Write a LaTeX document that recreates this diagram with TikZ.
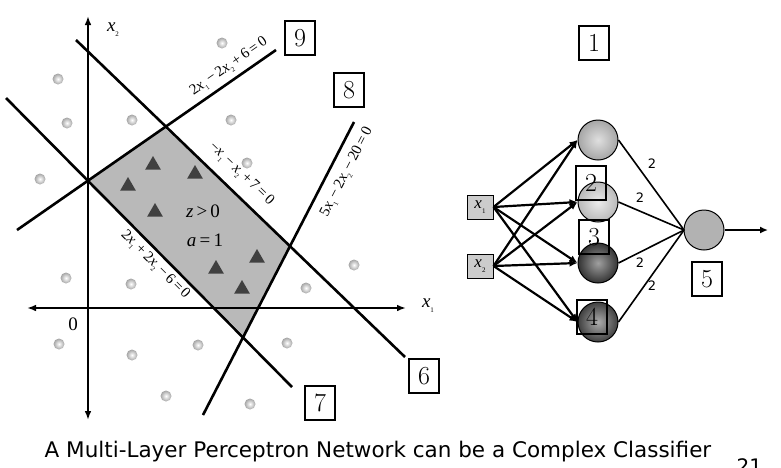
\documentclass[tikz,border=0pt]{standalone}
\usepackage{fontspec}
\newfontfamily\capfont{DejaVu Sans}
\newfontfamily\mfont{Liberation Serif}
\usetikzlibrary{arrows.meta,shapes.geometric}
\newcommand\vx[1]{\textit{x}\raisebox{-0.25em}{\scriptsize #1}}
\newcommand\op[1]{\,#1\,}
\begin{document}
\begin{tikzpicture}[x=1pt,y=-1pt,
  ln/.style={line width=2.6pt},
  numbox/.style={draw,line width=1.8pt,fill=white,inner sep=2pt,minimum width=30pt,minimum height=34pt,font=\fontsize{26}{28}\selectfont},
  dot/.style={circle,inner sep=0pt,minimum size=11pt,shade,inner color=white,outer color=gray!70},
  tri/.style={regular polygon,regular polygon sides=3,fill=black!75,inner sep=0pt,minimum size=18pt},
  lab/.style={inner sep=1pt,font=\mfont\fontsize{15}{17}\selectfont},
  big/.style={inner sep=1pt,font=\mfont\fontsize{19}{21}\selectfont},
  inbox/.style={draw,line width=1pt,fill=gray!40,minimum width=26pt,minimum height=24pt,inner sep=1pt,font=\mfont\fontsize{17}{19}\selectfont},
  hid/.style={circle,draw,line width=1pt,minimum size=40pt,inner sep=0pt},
  arr/.style={line width=2.2pt,-{Latex[length=8pt,width=7pt]}}]
\useasboundingbox (0,0) rectangle (781,467);
% shaded region
\fill[gray!55] (88,180) -- (165,128) -- (290,245) -- (245,337) -- cycle;
% axes
\coordinate (yb) at (88,420); \coordinate (yt) at (88,16);
\coordinate (xl) at (27,308); \coordinate (xr) at (406,308);
\draw[ln,{Latex[length=9pt]}-{Latex[length=9pt]}] (yb) -- (yt);
\draw[ln,{Latex[length=9pt]}-{Latex[length=9pt]}] (xl) -- (xr);
\node[big] (lx2) at (113,30) {\vx{2}};
\node[big] (lx1) at (428,306) {\vx{1}};
\node[big] (l0) at (73,324) {0};
% lines
\coordinate (l6a) at (76,40); \coordinate (l6b) at (405,357);
\coordinate (l7a) at (6,98); \coordinate (l7b) at (292,387);
\coordinate (l9a) at (17,230); \coordinate (l9b) at (276,50);
\coordinate (l8a) at (354,122); \coordinate (l8b) at (203,415);
\draw[ln] (l6a) -- (l6b);
\draw[ln] (l7a) -- (l7b);
\draw[ln] (l9a) -- (l9b);
\draw[ln] (l8a) -- (l8b);
\node[lab,rotate=34.8] (e9) at (229,67) {2\vx{1}\op{−}2\vx{2}\op{+}6\op{=}0};
\node[lab,rotate=-43.9] (e6) at (241,174) {−\vx{1}\op{−}\vx{2}\op{+}7\op{=}0};
\node[lab,rotate=62.7] (e8) at (347,172) {5\vx{1}\op{−}2\vx{2}\op{−}20\op{=}0};
\node[lab,rotate=-45] (e7) at (155,265) {2\vx{1}\op{+}2\vx{2}\op{−}6\op{=}0};
% triangles
\foreach \p [count=\i] in {(153,165),(195,174),(128,186),(155,212),(216,269),(257,258),(242,289)}
  \node[tri] (t\i) at \p {};
\node[big] (zt) at (203,211) {\textit{z}\op{>}0};
\node[big] (at) at (205,240) {\textit{a}\op{=}1};
% dots
\foreach \p [count=\i] in {(58,79),(67,123),(40,179),(132,120),(222,43),(231,120),(247,163),(66,278),(131,284),(306,288),(354,265),(59,344),(132,355),(198,345),(287,343),(166,396),(250,404)}
  \node[dot] (d\i) at \p {};
% network
\node[inbox] (x1) at (480,207) {\vx{1}};
\node[inbox] (x2) at (480,266) {\vx{2}};
\node[hid,shade,inner color=gray!25,outer color=gray!70] (h1) at (598,140) {};
\node[hid,shade,inner color=gray!15,outer color=gray!55] (h2) at (598,202) {};
\node[hid,shade,inner color=gray!75,outer color=black!80] (h3) at (598,263) {};
\node[hid,shade,inner color=gray!65,outer color=black!75] (h4) at (598,322) {};
\node[hid,fill=gray!60] (o) at (704,230) {};
\coordinate (oend) at (768,230);
\foreach \a in {x1,x2}\foreach \h in {h1,h2,h3,h4}
  \draw[arr] (\a.east) -- (\h.west);
\coordinate (cv) at (684,230);
\foreach \h in {h1,h2,h3,h4} \draw[line width=1.6pt] (\h.east) -- (cv);
\draw[arr] (o.east) -- (oend);
\node[font=\capfont\fontsize{13}{15}\selectfont] (w1) at (652,164) {2};
\node[font=\capfont\fontsize{13}{15}\selectfont] (w2) at (640,198) {2};
\node[font=\capfont\fontsize{13}{15}\selectfont] (w3) at (640,263) {2};
\node[font=\capfont\fontsize{13}{15}\selectfont] (w4) at (652,286) {2};
% number boxes
\node[numbox] (b1) at (594,43) {1};
\node[numbox,fill=none] (b2) at (591,183) {2};
\node[numbox,fill=none] (b3) at (594,237) {3};
\node[numbox,fill=none] (b4) at (592,317) {4};
\node[numbox] (b5) at (707,279) {5};
\node[numbox] (b6) at (424,376) {6};
\node[numbox] (b7) at (320,403) {7};
\node[numbox] (b8) at (349,90) {8};
\node[numbox] (b9) at (300,38) {9};
\node[font=\capfont\fontsize{21.5}{24}\selectfont] (cap) at (378,452) {A Multi-Layer Perceptron Network can be a Complex Classifier};
\node[font=\capfont\fontsize{20}{22}\selectfont,anchor=west] (pg) at (733,466) {21};
\end{tikzpicture}
\end{document}
